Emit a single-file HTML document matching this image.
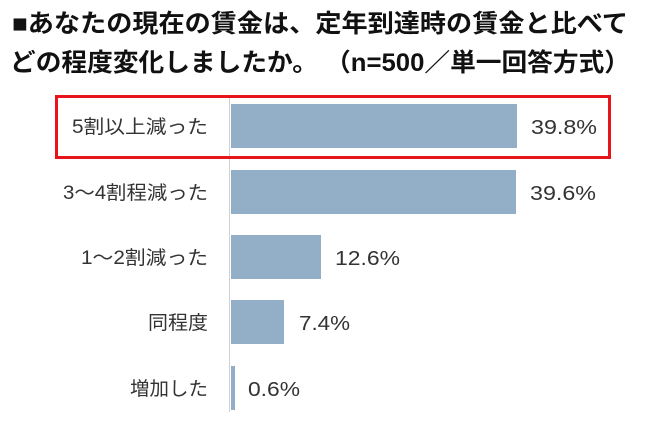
<!DOCTYPE html>
<html><head><meta charset="utf-8"><style>
html,body{margin:0;padding:0;background:#fff;}
svg{display:block;}
text{font-family:"Liberation Sans","Noto Sans CJK JP",sans-serif;}
</style></head><body>
<svg width="650" height="421" viewBox="0 0 650 421">
<text x="12" y="32" font-size="25" font-weight="bold" fill="#111" textLength="616" lengthAdjust="spacingAndGlyphs">■あなたの現在の賃金は、定年到達時の賃金と比べて</text>
<text x="10" y="71" font-size="25" font-weight="bold" fill="#111" textLength="620" lengthAdjust="spacingAndGlyphs">どの程度変化しましたか。 （n=500／単一回答方式）</text>
<line x1="229.5" y1="95" x2="229.5" y2="412" stroke="#d0d0d0" stroke-width="1"/>
<g fill="#93afc8">
<rect x="231" y="104" width="286" height="44"/>
<rect x="231" y="170" width="285" height="44"/>
<rect x="231" y="235" width="90" height="44"/>
<rect x="231" y="300" width="53" height="44"/>
<rect x="231" y="366" width="4" height="44"/>
</g>
<rect x="56.5" y="96.5" width="553" height="61" fill="none" stroke="#e8141b" stroke-width="3"/>
<g font-size="19" fill="#333">
<text x="72" y="133" textLength="136" lengthAdjust="spacingAndGlyphs">5割以上減った</text>
<text x="63" y="199" textLength="145" lengthAdjust="spacingAndGlyphs">3～4割程減った</text>
<text x="81" y="264" textLength="127" lengthAdjust="spacingAndGlyphs">1～2割減った</text>
<text x="148" y="329" textLength="60" lengthAdjust="spacingAndGlyphs">同程度</text>
<text x="130" y="395" textLength="78" lengthAdjust="spacingAndGlyphs">増加した</text>
</g>
<g font-size="20" fill="#333">
<text x="531" y="134" textLength="66" lengthAdjust="spacingAndGlyphs">39.8%</text>
<text x="530" y="200" textLength="66" lengthAdjust="spacingAndGlyphs">39.6%</text>
<text x="335" y="265" textLength="65" lengthAdjust="spacingAndGlyphs">12.6%</text>
<text x="299" y="330" textLength="51" lengthAdjust="spacingAndGlyphs">7.4%</text>
<text x="248" y="396" textLength="52" lengthAdjust="spacingAndGlyphs">0.6%</text>
</g>
</svg>
</body></html>
